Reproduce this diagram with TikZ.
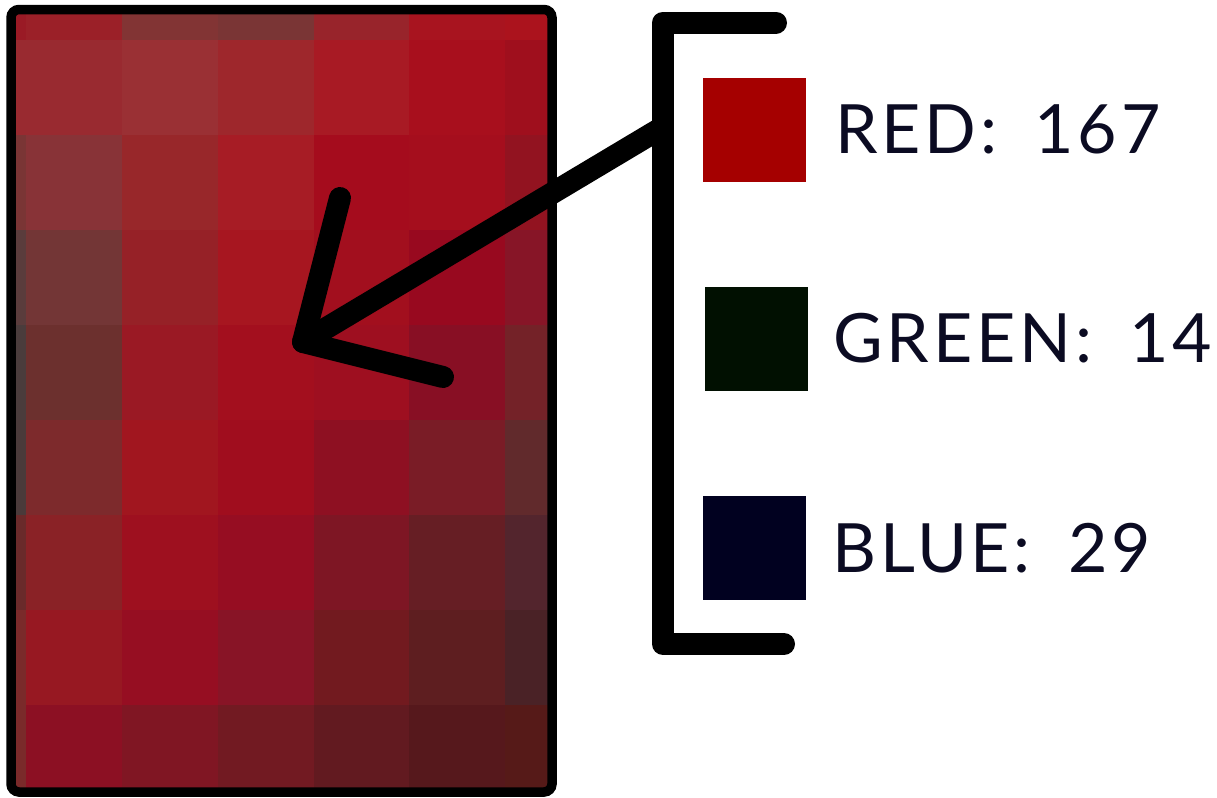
\documentclass[tikz,border=0pt]{standalone}
\usepackage{fontspec}
\usepackage{tikz}
\newfontfamily\lblfont[LetterSpace=5.5]{Lato}
\definecolor{inkblue}{HTML}{0B0B22}
\definecolor{swred}{HTML}{A50000}
\definecolor{swgreen}{HTML}{011001}
\definecolor{swblue}{HTML}{010120}
\tikzset{
  swatch/.style={minimum width=51.5pt, minimum height=52pt, inner sep=0pt, anchor=north west},
  chanlabel/.style={anchor=base west, inner sep=0pt, text=inkblue, font=\lblfont\fontsize{34}{37}\selectfont},
  heavyline/.style={line width=11pt, line cap=round, line join=round},
}

\begin{document}
\begin{tikzpicture}[x=0.5pt, y=-0.5pt]
    \useasboundingbox (0,0) rectangle (1217,798);
    % pixelated patch
    \begin{scope}
      \clip (16,14) rectangle (548,787);
      \foreach \r/\cols in {
        -1/{9A1A25,9B2028,823434,7A3535,98242B,A8141F,AB131D},
         0/{992A30,992A30,9A3034,9E272C,A81A24,A80F1D,9F0F1D},
         1/{7A3535,883337,98272A,A71C25,A50C1D,A50E1D,921320},
         2/{5A3C3C,733636,962127,A71620,A20F1E,98091F,871527},
         3/{4A3C3C,6C302E,9A1924,A30F1E,9E0F20,880F24,742228},
         4/{4A3A3A,7D2A2C,A1161F,A00D1E,8E1022,7A1C26,612A2C},
         5/{6A2A2A,8A2226,9E101F,960D22,7E1624,661E24,53252D},
         6/{7A2A2A,971822,960E22,881426,721A1F,5E1E20,4A2226},
         7/{7A2A2A,8C1023,801623,721A22,621A20,56181C,561A18}} {
        \foreach \hex [count=\c from -1] in \cols {
          \definecolor{cellcol}{HTML}{\hex}
          \fill[cellcol] ({26.25+95.75*\c},{40+95*\r}) rectangle ++(96.5,95.8);
        }
      }
    \end{scope}
    \draw[line width=4.75pt, rounded corners=4pt] (11,9.5) rectangle (552,792);

    % bracket and legend
    \coordinate (brtop) at (776,22.5);
    \coordinate (brbot) at (784,644);
    \draw[heavyline] (brtop) -- (663,22.5) -- (663,644) -- (brbot);
    \node[swatch, fill=swred]   (redbox)   at (703,78)  {};
    \node[swatch, fill=swgreen] (greenbox) at (705,287) {};
    \node[swatch, fill=swblue]  (bluebox)  at (703,496) {};
    \node[chanlabel] (redlbl)   at (835,153) {RED:\hspace{0.55em}167};
    \node[chanlabel] (greenlbl) at (833,362) {GREEN:\hspace{0.55em}14};
    \node[chanlabel] (bluelbl)  at (832,572) {BLUE:\hspace{0.55em}29};

    % pointer into the patch
    \coordinate (shaft) at (663,127);
    \coordinate (tip) at (303,342);
    \coordinate (barbup) at (340,198);
    \coordinate (barbdown) at (443,377);
    \draw[heavyline] (shaft) -- (tip);
    \draw[heavyline] (barbup) -- (tip) -- (barbdown);
  \end{tikzpicture}
\end{document}
